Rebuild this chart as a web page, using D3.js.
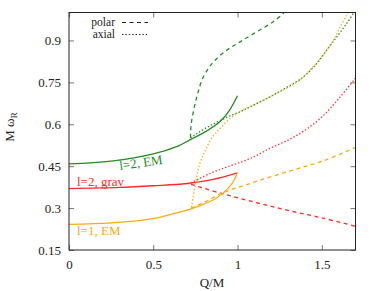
<!DOCTYPE html>
<html><head><meta charset="utf-8">
<script src="https://cdn.jsdelivr.net/npm/d3@7"></script>
<style>body{margin:0;background:#fff}svg{display:block}svg text{font-family:"Liberation Serif","Times New Roman",Times,"DejaVu Serif",serif !important}</style>
</head><body><svg id="c" width="378" height="291" font-family="Liberation Serif, Times New Roman, serif"></svg>
<script>
// ---- data ----
const xTicks = [0, 0.5, 1, 1.5];
const yTicks = [0.15, 0.3, 0.45, 0.6, 0.75, 0.9];
const xTickLabels = ["0", "0.5", "1", "1.5"];
const yTickLabels = ["0.15", "0.3", "0.45", "0.6", "0.75", "0.9"];

// l=2 EM (green)
const emL2Solid = [[0,0.458],[0.25,0.468],[0.5,0.494],[0.65,0.523],[0.72,0.545],[0.8,0.570],[0.9,0.612],[0.95,0.648],[1.0,0.702]];
const emL2Polar = [[0.721,0.552],[0.722,0.577],[0.728,0.613],[0.758,0.697],[0.797,0.769],[0.857,0.823],[0.936,0.865],[1.015,0.895],[1.114,0.931],[1.212,0.967],[1.272,0.997],[1.29,1.01]];
const emL2Axial = [[0.721,0.552],[0.748,0.563],[0.777,0.574],[0.837,0.595],[0.896,0.613],[0.955,0.630],[1.015,0.645],[1.074,0.662],[1.193,0.698],[1.28,0.728],[1.381,0.765],[1.47,0.817],[1.529,0.865],[1.589,0.913],[1.648,0.961],[1.69,0.999],[1.70,1.008]];

// l=2 grav (red)
const gravL2Solid = [[0,0.370],[0.3,0.374],[0.5,0.380],[0.7,0.388],[0.85,0.402],[1.0,0.426]];
const gravL2Polar = [[0.724,0.385],[0.914,0.351],[1.116,0.319],[1.312,0.290],[1.508,0.264],[1.7,0.235]];
const gravL2Axial = [[0.724,0.390],[0.837,0.424],[0.955,0.451],[1.074,0.477],[1.193,0.514],[1.312,0.547],[1.411,0.583],[1.509,0.631],[1.608,0.697],[1.7,0.765]];

// l=1 EM (orange)
const emL1Solid = [[0,0.242],[0.25,0.247],[0.5,0.262],[0.6,0.277],[0.72,0.296],[0.8,0.314],[0.878,0.337],[0.938,0.367],[0.977,0.397],[0.997,0.424]];
const emL1Polar = [[0.724,0.300],[0.807,0.322],[0.908,0.354],[1.074,0.388],[1.312,0.433],[1.508,0.469],[1.7,0.517]];
const emL1Axial = [[0.727,0.303],[0.748,0.379],[0.772,0.451],[0.807,0.505],[0.849,0.552],[0.896,0.585],[0.955,0.620],[1.015,0.645],[1.114,0.675],[1.212,0.704],[1.30,0.732],[1.371,0.759],[1.44,0.800],[1.509,0.849],[1.569,0.901],[1.608,0.947],[1.648,0.991],[1.66,1.006]];

const legendLabels = ["polar", "axial"];
const curveLabels = ["l=2, EM", "l=2, grav", "l=1, EM"];

// ---- drawing ----
const FONT = "Liberation Serif, Times New Roman, serif";
const green = "#228b22", red = "#ff2a2a", orange = "#ffab10";
const svg = d3.select("#c");
const L = 69, R = 355.5, T = 12.5, B = 250;
const x = d3.scaleLinear().domain([0, 1.7]).range([L, R]);
const y = d3.scaleLinear().domain([0.15, 1.0]).range([B, T]);

svg.append("clipPath").attr("id","clip").append("rect")
  .attr("x", L).attr("y", T).attr("width", R - L).attr("height", B - T);

const line = d3.line().x(d => x(d[0])).y(d => y(d[1])).curve(d3.curveCatmullRom.alpha(0.5));
const plot = svg.append("g").attr("clip-path", "url(#clip)");
const dashP = "4,3.5", dotA = "1.4,2";
const series = [
  [emL2Solid, green, null], [emL2Polar, green, dashP], [emL2Axial, green, dotA],
  [gravL2Solid, red, null], [gravL2Polar, red, dashP], [gravL2Axial, red, dotA],
  [emL1Solid, orange, null], [emL1Polar, orange, dashP], [emL1Axial, orange, dotA]
];
series.forEach(([d, c, da]) => {
  plot.append("path").datum(d).attr("d", line).attr("fill", "none")
    .attr("stroke", c).attr("stroke-width", 1.3)
    .attr("stroke-dasharray", da);
});

// axes (inner ticks, mirrored)
const fs = 13;
const axB = svg.append("g").attr("transform", `translate(0,${B})`)
  .call(d3.axisBottom(x).tickValues(xTicks).tickSizeInner(-5).tickSizeOuter(0).tickPadding(10).tickFormat((d,i)=>xTickLabels[i]));
const axT = svg.append("g").attr("transform", `translate(0,${T})`)
  .call(d3.axisTop(x).tickValues(xTicks).tickSizeInner(-5).tickSizeOuter(0).tickFormat(""));
const axL = svg.append("g").attr("transform", `translate(${L},0)`)
  .call(d3.axisLeft(y).tickValues(yTicks).tickSizeInner(-5).tickSizeOuter(0).tickPadding(8).tickFormat((d,i)=>yTickLabels[i]));
const axR = svg.append("g").attr("transform", `translate(${R},0)`)
  .call(d3.axisRight(y).tickValues(yTicks).tickSizeInner(-5).tickSizeOuter(0).tickFormat(""));
[axB, axT, axL, axR].forEach(a => {
  a.attr("font-family", FONT);
  a.select(".domain").remove();
  a.selectAll("line").attr("stroke", "#777");
  a.selectAll("text").attr("font-family", FONT).attr("font-size", fs).attr("fill", "#222");
});
svg.append("rect").attr("x", L).attr("y", T).attr("width", R - L).attr("height", B - T)
  .attr("fill", "none").attr("stroke", "#222").attr("stroke-width", 1);

// axis titles
svg.append("text").attr("x", 212).attr("y", 287).attr("text-anchor", "middle")
  .attr("font-family", FONT).attr("font-size", fs).attr("fill", "#222").text("Q/M");
const yl = svg.append("text").attr("transform", "translate(14,127) rotate(-90)")
  .attr("text-anchor", "middle").attr("font-family", FONT).attr("font-size", fs).attr("fill", "#222");
yl.append("tspan").text("M ω");
yl.append("tspan").attr("font-size", 9).attr("dy", 3).text("R");

// legend
const legDash = [dashP, dotA];
legendLabels.forEach((t, i) => {
  const yy = 22.5 + i * 12;
  svg.append("text").attr("x", 115).attr("y", yy + 3.5).attr("text-anchor", "end")
    .attr("font-family", FONT).attr("font-size", 11.5).attr("fill", "#222").text(t);
  svg.append("line").attr("x1", 122).attr("x2", 148).attr("y1", yy).attr("y2", yy)
    .attr("stroke", "#222").attr("stroke-width", 1).attr("stroke-dasharray", legDash[i]);
});

// curve labels
svg.append("text").attr("transform", "translate(120,170) rotate(-8)")
  .attr("font-family", FONT).attr("font-size", fs).attr("fill", green).text(curveLabels[0]);
svg.append("text").attr("x", 77).attr("y", 186)
  .attr("font-family", FONT).attr("font-size", fs).attr("fill", red).text(curveLabels[1]);
svg.append("text").attr("x", 77).attr("y", 235)
  .attr("font-family", FONT).attr("font-size", fs).attr("fill", orange).text(curveLabels[2]);
</script></body></html>
